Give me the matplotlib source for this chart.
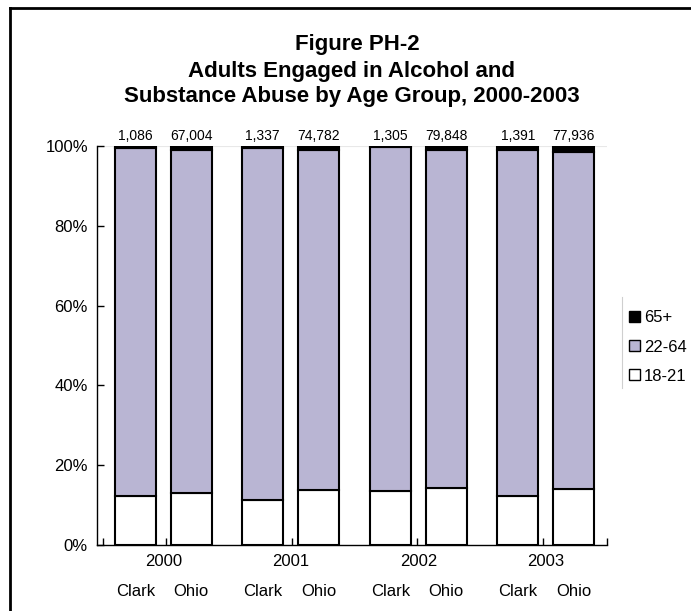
import matplotlib
matplotlib.use("Agg")
import matplotlib.pyplot as plt
import numpy as np
from matplotlib.patches import Patch
from matplotlib.lines import Line2D

plt.rcParams['font.family'] = ['Liberation Sans', 'DejaVu Sans']

years = ['2000', '2001', '2002', '2003']
regions = ['Clark', 'Ohio']
totals_clark = ['1,086', '1,337', '1,305', '1,391']
totals_ohio = ['67,004', '74,782', '79,848', '77,936']
# percentages by age group
age_18_21_clark = [12.3, 11.4, 13.6, 12.3]
age_18_21_ohio = [13.1, 13.8, 14.2, 14.0]
age_65p_clark = [0.4, 0.4, 0.3, 0.9]
age_65p_ohio = [0.9, 1.0, 1.0, 1.5]
legend_labels = ['65+', '22-64', '18-21']
title_lines = ['Figure PH-2', 'Adults Engaged in Alcohol and',
               'Substance Abuse by Age Group, 2000-2003']

purple = '#B9B5D3'
W, H = 691, 611

fig = plt.figure(figsize=(W / 100, H / 100), dpi=100)
ax = fig.add_axes([97/W, 1-545/H, (607-97)/W, (545-146)/H])

x_clark = np.arange(4) + 0.30
x_ohio = np.arange(4) + 0.74
w = 0.32
lw = 1.5

def draw(xs, low, high, labels):
    low = np.array(low) / 100
    high = np.array(high) / 100
    mid = 1 - low - high
    ax.bar(xs, low, w, color='white', edgecolor='black', linewidth=lw, zorder=3)
    ax.bar(xs, mid, w, bottom=low, color=purple, edgecolor='black', linewidth=lw, zorder=3)
    ax.bar(xs, high, w, bottom=low + mid, color='black', edgecolor='black', linewidth=lw, zorder=3)
    for x, l in zip(xs, labels):
        ax.annotate(l, (x, 1.0), xytext=(0, 4.5), textcoords='offset points',
                    ha='center', va='baseline', fontsize=10, annotation_clip=False)

draw(x_clark, age_18_21_clark, age_65p_clark, totals_clark)
draw(x_ohio, age_18_21_ohio, age_65p_ohio, totals_ohio)

ax.axhline(1.0, color='#e8e8e8', linewidth=0.8, zorder=1)

ax.set_xlim(0, 4)
ax.set_ylim(0, 1)
ax.set_yticks(np.linspace(0, 1, 6))
ax.set_yticklabels([f'{int(v)}%' for v in np.linspace(0, 100, 6)], fontsize=12)
ax.tick_params(axis='y', direction='in', length=5, width=1, pad=6.5)

ax.set_xticks([0.05, 0.54, 1.53, 2.51, 3.5, 4.0])
ax.set_xticklabels([])
ax.tick_params(axis='x', direction='in', length=5, width=1)

for s in ['top', 'right']:
    ax.spines[s].set_visible(False)
for s in ['left', 'bottom']:
    ax.spines[s].set_linewidth(1.0)

for i, y in enumerate(years):
    ax.text(i + 0.52, -0.022, y, ha='center', va='top', fontsize=12)
for xc, xo in zip(x_clark, x_ohio):
    ax.text(xc, -0.098, regions[0], ha='center', va='top', fontsize=12)
    ax.text(xo, -0.098, regions[1], ha='center', va='top', fontsize=12)

title_x = [357, 352, 352]
title_base = [50, 77, 102]
for t, tx, ty in zip(title_lines, title_x, title_base):
    fig.text(tx / W, 1 - ty / H, t, ha='center', va='baseline', fontsize=16, fontweight='bold')

handles = [Patch(facecolor='black', edgecolor='black', linewidth=1),
           Patch(facecolor=purple, edgecolor='black', linewidth=1),
           Patch(facecolor='white', edgecolor='black', linewidth=1)]
leg = fig.legend(handles, legend_labels, loc='center left', bbox_to_anchor=(629/W, 1-347/H),
                 frameon=False, fontsize=12, handlelength=0.66, handleheight=0.66,
                 handletextpad=0.25, labelspacing=0.85, borderaxespad=0, borderpad=0)

# faint line left of legend
fig.add_artist(Line2D([622/W, 622/W], [1-297/H, 1-388/H], transform=fig.transFigure,
                      color='#cfcfcf', linewidth=0.8))

# figure border (top and left visible)
fig.add_artist(Line2D([10/W, 10/W], [0, 1-8/H], transform=fig.transFigure, color='black', linewidth=2))
fig.add_artist(Line2D([10/W, 1], [1-8/H, 1-8/H], transform=fig.transFigure, color='black', linewidth=2))

fig.savefig('out.png', dpi=100)
